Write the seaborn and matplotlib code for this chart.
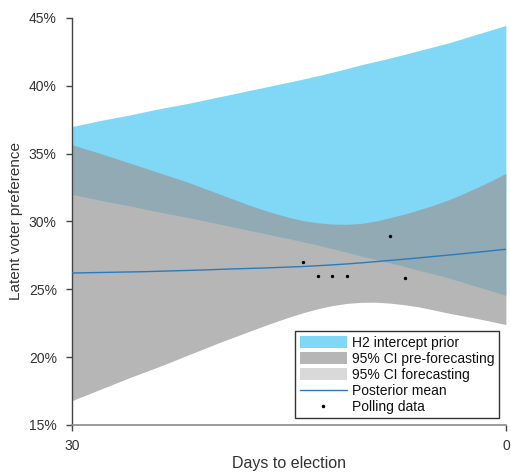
import numpy as np
import pandas as pd
import seaborn as sns
import matplotlib.pyplot as plt
from matplotlib.patches import Patch
from matplotlib.lines import Line2D
from matplotlib.ticker import FuncFormatter

# 값은 그림에서 읽은 추정치 (단위: %), 선거까지 남은 일수별
days = list(range(30, -1, -1))
prior_upper = [37.0, 37.22, 37.45, 37.65, 37.85, 38.08, 38.3, 38.5, 38.7, 38.92, 39.15,
               39.37, 39.6, 39.82, 40.05, 40.27, 40.5, 40.74, 41.0, 41.27, 41.55,
               41.8, 42.05, 42.32, 42.6, 42.87, 43.15, 43.47, 43.8, 44.12, 44.45]
prior_lower = [32.0, 31.78, 31.55, 31.35, 31.15, 30.92, 30.7, 30.5, 30.3, 30.08, 29.85,
               29.63, 29.4, 29.18, 28.95, 28.73, 28.5, 28.26, 28.0, 27.73, 27.45,
               27.2, 26.95, 26.68, 26.4, 26.13, 25.85, 25.53, 25.2, 24.88, 24.55]
ci_upper = [35.65, 35.33, 35.0, 34.65, 34.3, 33.95, 33.6, 33.25, 32.9, 32.5, 32.1,
            31.7, 31.3, 30.93, 30.6, 30.3, 30.06, 29.9, 29.81, 29.79, 29.86,
            30.03, 30.28, 30.55, 30.86, 31.2, 31.58, 32.02, 32.5, 33.0, 33.55]
ci_lower = [16.8, 17.22, 17.65, 18.07, 18.5, 18.9, 19.3, 19.72, 20.15, 20.57, 21.0,
            21.4, 21.8, 22.2, 22.58, 22.95, 23.28, 23.57, 23.8, 23.96, 24.04,
            24.05, 23.98, 23.86, 23.7, 23.48, 23.25, 23.05, 22.85, 22.63, 22.4]
post_mean = [26.2, 26.22, 26.24, 26.26, 26.28, 26.3, 26.33, 26.36, 26.39, 26.42, 26.46,
             26.5, 26.53, 26.56, 26.6, 26.64, 26.68, 26.74, 26.8, 26.87, 26.95,
             27.04, 27.13, 27.22, 27.32, 27.42, 27.52, 27.62, 27.73, 27.84, 27.95]

poll_days = [14, 13, 12, 11, 8, 7]
poll_values = [27.0, 26.0, 26.0, 26.0, 28.9, 25.85]

x_ticks = [30, 0]
y_ticks = [15, 20, 25, 30, 35, 40, 45]

df = pd.DataFrame({'day': days, 'prior_upper': prior_upper, 'prior_lower': prior_lower,
                   'ci_upper': ci_upper, 'ci_lower': ci_lower, 'mean': post_mean})
polls = pd.DataFrame({'day': poll_days, 'value': poll_values})

sns.set_style('ticks')
plt.rcParams['font.family'] = ['Liberation Sans', 'DejaVu Sans']

blue = '#81d7f6'
gray_dark = '#989898'
gray_light = '#d9d9d9'
line_col = '#2a7bbd'
text_col = '#333333'

fig, ax = plt.subplots(figsize=(5.11, 4.72), dpi=100)
fig.subplots_adjust(left=0.141, right=0.990, bottom=0.0996, top=0.962)

ax.fill_between(df['day'], df['prior_lower'], df['prior_upper'], color=blue, lw=0, zorder=1)
ax.fill_between(df['day'], df['ci_lower'], df['ci_upper'], color=gray_dark, alpha=0.71, lw=0, zorder=2)
sns.lineplot(data=df, x='day', y='mean', color=line_col, lw=1.0, ax=ax, zorder=3)
sns.scatterplot(data=polls, x='day', y='value', color='black', s=6, linewidth=0, ax=ax, zorder=4)

ax.set_xlim(30, 0)
ax.set_ylim(15, 45)
ax.set_xticks(x_ticks)
ax.set_yticks(y_ticks)
ax.yaxis.set_major_formatter(FuncFormatter(lambda v, p: f'{v:.0f}%'))
ax.tick_params(axis='both', labelsize=10, colors='#444444', labelcolor=text_col, length=4, width=1)
ax.tick_params(axis='y', pad=7)
ax.tick_params(axis='x', pad=6)

ax.set_xlabel('Days to election', fontsize=11.5, color=text_col, labelpad=2)
ax.set_ylabel('Latent voter preference', fontsize=11, color=text_col, labelpad=4)

sns.despine(ax=ax)
ax.spines['left'].set_color('#444444')
ax.spines['bottom'].set_color('#8a8a8a')
ax.spines['left'].set_linewidth(1.0)
ax.spines['bottom'].set_linewidth(1.2)

handles = [
    Patch(facecolor=blue, edgecolor='none'),
    Patch(facecolor=gray_dark, alpha=0.71, edgecolor='none'),
    Patch(facecolor=gray_light, edgecolor='none'),
    Line2D([0], [0], color=line_col, lw=1.0),
    Line2D([0], [0], color='black', marker='.', markersize=3, lw=0),
]
labels = ['H2 intercept prior', '95% CI pre-forecasting', '95% CI forecasting',
          'Posterior mean', 'Polling data']
leg = ax.legend(handles, labels, loc='lower right', fontsize=10, frameon=True, fancybox=False,
                handlelength=3.4, handleheight=0.9, handletextpad=0.4, labelspacing=0.15,
                borderpad=0.3, borderaxespad=0.5)
leg.get_frame().set_edgecolor('#333333')
leg.get_frame().set_linewidth(1.0)
leg.get_frame().set_alpha(1)
for t in leg.get_texts():
    t.set_color('#111111')

plt.savefig('out.png', dpi=100)
